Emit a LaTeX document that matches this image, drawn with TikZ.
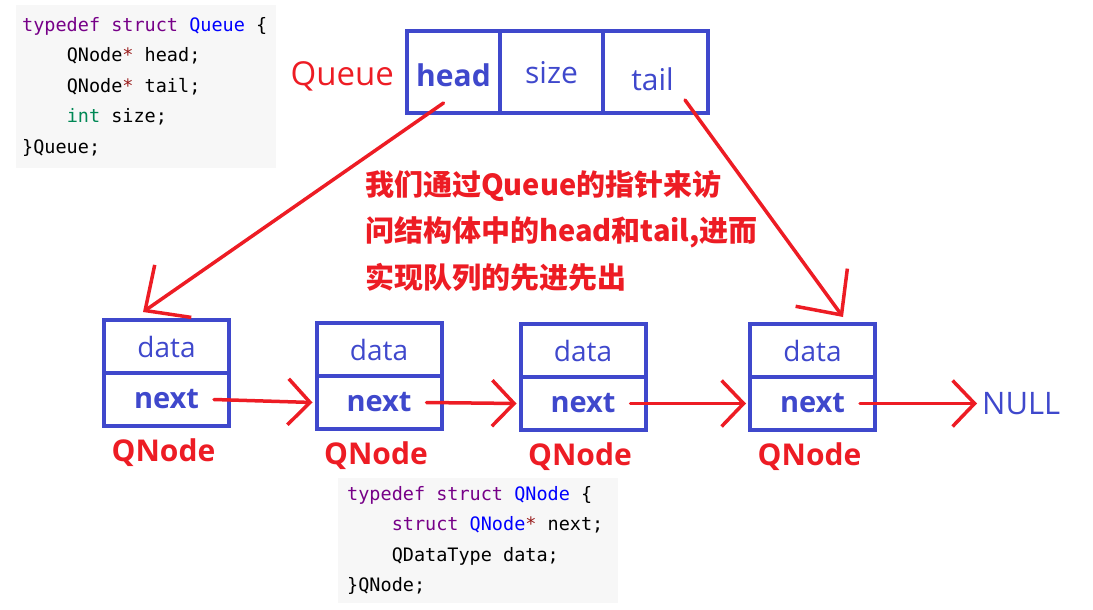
\documentclass[tikz,border=0pt]{standalone}
\usepackage{fontspec}
\setmainfont{Open Sans}
\setmonofont{DejaVu Sans Mono}
\newfontfamily\cjk{Noto Sans CJK SC}
\usetikzlibrary{positioning, arrows.meta, calc}
\definecolor{qblue}{HTML}{3F48CC}
\definecolor{qred}{HTML}{ED1C24}
\definecolor{codebg}{HTML}{F7F7F7}
\definecolor{kw}{HTML}{770088}
\definecolor{df}{HTML}{0000FF}
\definecolor{ty}{HTML}{008855}
\definecolor{op}{HTML}{981A1A}
\newcommand{\fsz}[1]{\fontsize{#1}{#1}\selectfont}
\newcommand{\ind}{\phantom{0000}}
\newcommand{\monosp}{\spaceskip=0.602em\relax}

\begin{document}
\begin{tikzpicture}[x=1pt, y=-1pt,
    cell/.style={draw=qblue, line width=4pt, outer sep=0pt, inner sep=0pt, text=qblue},
    qcell/.style={cell, minimum height=81pt, text height=22pt, text depth=0pt},
    codebox/.style={fill=codebg, anchor=north west, align=left, inner ysep=12pt,
      font=\ttfamily\fontsize{18.5}{30.5}\selectfont},
    tagtext/.style={text=qred, inner sep=0pt, font=\fsz{30}\bfseries},
    link/.style={draw=qred, line width=3.5pt, line cap=round, line join=round,
      -{Straight Barb[length=22pt, width=46pt]}},
    ptr/.style={link, -{Straight Barb[length=34pt, width=64pt]}}]
  \useasboundingbox (0,0) rectangle (1093,610);

  % struct definitions
  \node[codebox, inner xsep=6pt, text width=248pt] (qcode) at (16,5) {\monosp
    \textcolor{kw}{typedef struct} \textcolor{df}{Queue} \{\\
    \ind QNode\textcolor{op}{*} head;\\
    \ind QNode\textcolor{op}{*} tail;\\
    \ind \textcolor{ty}{int} size;\\
    \}Queue;};
  \node[codebox, inner xsep=9pt, inner ysep=8pt, text width=262pt] (ncode) at (338,478) {\monosp
    \textcolor{kw}{typedef struct} \textcolor{df}{QNode} \{\\
    \ind \textcolor{kw}{struct} \textcolor{df}{QNode}\textcolor{op}{*} next;\\
    \ind QDataType data;\\
    \}QNode;};

  % the Queue
  \node[qcell, minimum width=93pt, font=\fsz{30}\bfseries] (qhead) at (453.5,72) {\raisebox{-4pt}{head}};
  \node[qcell, minimum width=103pt, right=0pt of qhead, font=\fsz{30}] (qsize) {\raisebox{-1pt}{size}};
  \node[qcell, minimum width=105pt, right=0pt of qsize, font=\fsz{30}] (qtail) {\raisebox{-8pt}{\hspace*{-6pt}tail}};
  \node[left=13pt of qhead, yshift=-4pt, text=qred, inner sep=0pt, font=\fsz{33}] (qname) {Queue};

  % the nodes
  \foreach \i/\x/\y in {1/166.5/346.5, 2/379/349.5, 3/583/350.5, 4/812.5/350.5} {
    \node[cell, minimum width=125pt, minimum height=53pt, font=\fsz{28}] (d\i) at (\x,\y) {data};
    \node[cell, minimum width=125pt, minimum height=53pt, below=0pt of d\i, font=\fsz{29}\bfseries] (n\i) {next};
    \node[tagtext, below=13pt of n\i, xshift=-3pt] (t\i) {QNode};
  }
  \node[right=107pt of n4, text=qblue, inner sep=0pt, font=\fsz{31}] (null) {NULL};

  \node[anchor=north west, align=left, inner sep=0pt, text=qred,
    font=\cjk\bfseries\fontsize{29}{46.5}\selectfont] (note) at (365,170)
    {我们通过Queue的指针来访\\问结构体中的head和tail,进而\\实现队列的先进先出};

  % pointers
  \draw[ptr] ([shift={(-10pt,9.5pt)}]qhead.south) -- ([shift={(-23.5pt,8pt)}]d1.north);
  \draw[ptr] ([shift={(29.5pt,12.5pt)}]qtail.south) -- ([shift={(30.5pt,7pt)}]d4.north);
  \foreach \a/\b in {1/2, 2/3, 3/4}
    \draw[link] ([xshift=-15pt]n\a.east) -- ([xshift=-4pt]n\b.west);
  \draw[link] ([xshift=-15pt]n4.east) -- ([xshift=-5pt]null.west);
\end{tikzpicture}
\end{document}
